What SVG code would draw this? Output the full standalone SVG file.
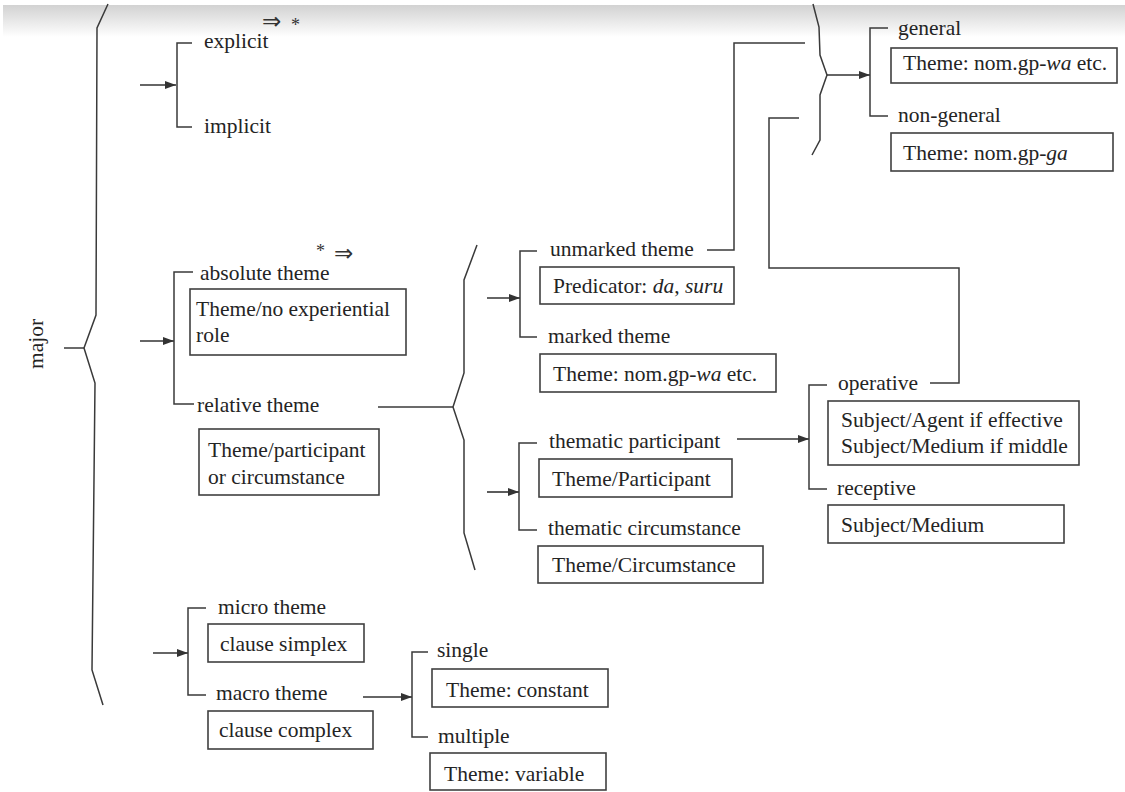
<svg xmlns="http://www.w3.org/2000/svg" width="1125" height="792" viewBox="0 0 1125 792">
<defs>
<linearGradient id="shade" x1="0" y1="0" x2="0" y2="1">
<stop offset="0" stop-color="#d2d2d2"/>
<stop offset="0.5" stop-color="#e8e8e8"/>
<stop offset="1" stop-color="#ffffff"/>
</linearGradient>
<marker id="ah" markerUnits="userSpaceOnUse" markerWidth="12" markerHeight="10" refX="11" refY="5" orient="auto">
<path d="M0,1 L11,5 L0,9 Z" fill="#333"/>
</marker>
<style>
text{font-family:"Liberation Serif","Times New Roman",serif;font-size:21.5px;fill:#242424}
.arrsym{font-family:"DejaVu Sans",sans-serif;font-size:23px;fill:#333}
.star{font-size:18px;fill:#333}
.ln{fill:none;stroke:#3a3a3a;stroke-width:1.5}
.box{fill:#fff;stroke:#404040;stroke-width:1.6}
.arr{fill:none;stroke:#333;stroke-width:1.6;marker-end:url(#ah)}
</style>
</defs>
<rect width="1125" height="792" fill="#fff"/>
<rect x="3" y="5" width="1122" height="32" fill="url(#shade)"/>

<g id="connectors">
<polyline class="ln" points="108,4 97,28 96,315 84,348 95,383 92,670 103,705"/>
<line class="ln" x1="64" y1="348" x2="84" y2="348"/>
<line class="arr" x1="140" y1="85" x2="176" y2="85"/>
<polyline class="ln" points="192,43 177,43 177,127 192,127"/>
<line class="arr" x1="140" y1="341" x2="174" y2="341"/>
<polyline class="ln" points="193,272 174,272 174,404 194,404"/>
<line class="ln" x1="378" y1="407" x2="453" y2="407"/>
<polyline class="ln" points="477,245 464,280 464,373 453,407 464,440 464,533 475,570"/>
<line class="arr" x1="487" y1="298" x2="520" y2="298"/>
<polyline class="ln" points="537,251 520,251 520,337 537,337"/>
<line class="arr" x1="487" y1="492" x2="519" y2="492"/>
<polyline class="ln" points="537,443 519,443 519,530 537,530"/>
<polyline class="ln" points="707,250 734,250 734,43 805,43"/>
<polyline class="ln" points="930,383 959,383 959,268 769,268 769,118 799,118"/>
<polyline class="ln" points="813,4 819,27 820,55 827,75 820,95 820,140 812,155"/>
<line class="arr" x1="827" y1="75" x2="870" y2="75"/>
<polyline class="ln" points="888,28 870,28 870,116 888,116"/>
<line class="arr" x1="737" y1="439" x2="809" y2="439"/>
<polyline class="ln" points="827,385 809,385 809,489 827,489"/>
<line class="arr" x1="153" y1="653" x2="188" y2="653"/>
<polyline class="ln" points="206,608 188,608 188,695 206,695"/>
<line class="arr" x1="363" y1="697" x2="412" y2="697"/>
<polyline class="ln" points="428,652 412,652 412,737 428,737"/>
</g>

<g id="major"><text transform="translate(43,344) rotate(-90)" text-anchor="middle">major</text></g>
<g id="sym1"><text class="arrsym" x="262" y="29">⇒</text><text class="star" x="291" y="31">*</text></g>
<g id="sym2"><text class="star" x="316" y="257">*</text><text class="arrsym" x="334" y="261">⇒</text></g>

<g id="explicit"><text x="204" y="48">explicit</text></g>
<g id="implicit"><text x="204" y="133">implicit</text></g>

<g id="general"><text x="898" y="35">general</text>
<rect class="box" x="891" y="48" width="226" height="35"/>
<text x="903" y="70">Theme: nom.gp-<tspan font-style="italic">wa</tspan> etc.</text></g>
<g id="non-general"><text x="898" y="122">non-general</text>
<rect class="box" x="891" y="133" width="222" height="38"/>
<text x="903" y="160">Theme: nom.gp-<tspan font-style="italic">ga</tspan></text></g>

<g id="absolute"><text x="200" y="280">absolute theme</text>
<rect class="box" x="190" y="289" width="216" height="66"/>
<text x="196" y="316">Theme/no experiential</text>
<text x="196" y="342">role</text></g>
<g id="relative"><text x="197" y="412">relative theme</text>
<rect class="box" x="199" y="429" width="180" height="66"/>
<text x="208" y="457">Theme/participant</text>
<text x="208" y="484">or circumstance</text></g>

<g id="unmarked"><text x="550" y="256">unmarked theme</text>
<rect class="box" x="540" y="267" width="194" height="37"/>
<text x="553" y="293">Predicator: <tspan font-style="italic">da</tspan>, <tspan font-style="italic">suru</tspan></text></g>
<g id="marked"><text x="548" y="343">marked theme</text>
<rect class="box" x="540" y="354" width="236" height="38"/>
<text x="553" y="381">Theme: nom.gp-<tspan font-style="italic">wa</tspan> etc.</text></g>
<g id="participant"><text x="549" y="448">thematic participant</text>
<rect class="box" x="539" y="459" width="193" height="38"/>
<text x="552" y="486">Theme/Participant</text></g>
<g id="circumstance"><text x="548" y="535">thematic circumstance</text>
<rect class="box" x="538" y="546" width="225" height="37"/>
<text x="552" y="572">Theme/Circumstance</text></g>

<g id="operative"><text x="838" y="390">operative</text>
<rect class="box" x="828" y="401" width="251" height="64"/>
<text x="841" y="427">Subject/Agent if effective</text>
<text x="841" y="453">Subject/Medium if middle</text></g>
<g id="receptive"><text x="837" y="495">receptive</text>
<rect class="box" x="828" y="505" width="236" height="38"/>
<text x="841" y="532">Subject/Medium</text></g>

<g id="micro"><text x="218" y="614">micro theme</text>
<rect class="box" x="208" y="624" width="156" height="38"/>
<text x="220" y="651">clause simplex</text></g>
<g id="macro"><text x="216" y="700">macro theme</text>
<rect class="box" x="208" y="711" width="165" height="38"/>
<text x="219" y="737">clause complex</text></g>
<g id="single"><text x="437" y="657">single</text>
<rect class="box" x="432" y="669" width="176" height="38"/>
<text x="446" y="697">Theme: constant</text></g>
<g id="multiple"><text x="438" y="743">multiple</text>
<rect class="box" x="430" y="753" width="176" height="37"/>
<text x="444" y="781">Theme: variable</text></g>
</svg>
